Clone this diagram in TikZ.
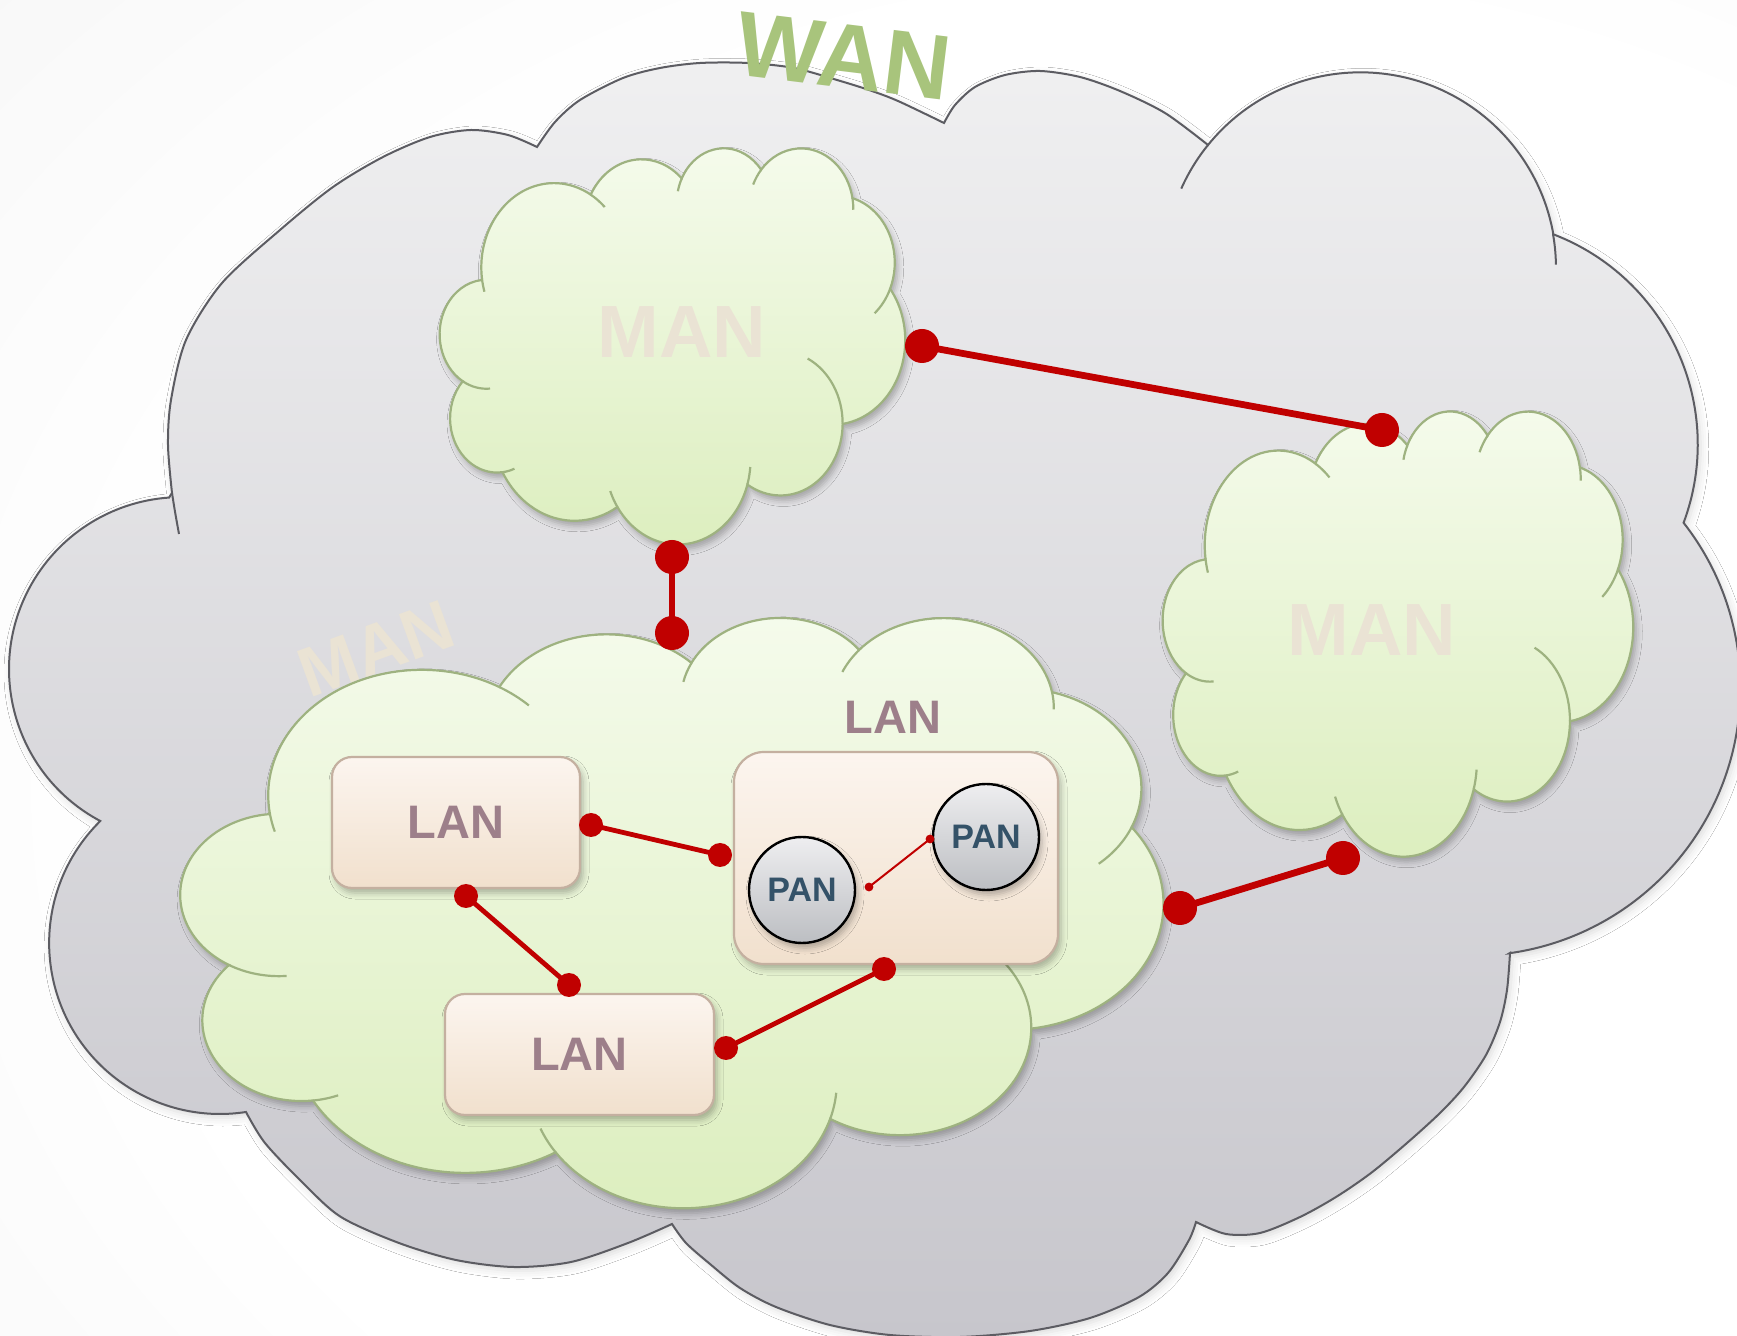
\documentclass[tikz,border=0pt]{standalone}
\usepackage{fontspec}
\setmainfont{Liberation Sans}
\usetikzlibrary{shadows.blur}

\definecolor{wire}{RGB}{192,0,0}
\definecolor{wanedge}{RGB}{92,92,98}
\definecolor{wantop}{RGB}{240,240,241}
\definecolor{wanbot}{RGB}{199,198,204}
\definecolor{mantop}{RGB}{245,251,236}
\definecolor{manbot}{RGB}{220,238,190}
\definecolor{manedge}{RGB}{158,178,128}
\definecolor{mantext}{RGB}{234,227,212}
\definecolor{wantext}{RGB}{168,196,124}
\definecolor{lantop}{RGB}{252,245,239}
\definecolor{lanbot}{RGB}{241,224,205}
\definecolor{lanedge}{RGB}{196,176,160}
\definecolor{lantext}{RGB}{157,127,138}
\definecolor{pantop}{RGB}{238,238,240}
\definecolor{panbot}{RGB}{188,190,194}
\definecolor{pantext}{RGB}{52,82,104}

\pgfdeclareradialshading{backdrop}{\pgfpoint{15bp}{-8bp}}{%
  color(0bp)=(white); color(30bp)=(white); color(55bp)=(black!5); color(80bp)=(black!15)}

% outline of the large WAN cloud, lobe by lobe
\newcommand\wanpath{%
 plot[smooth] coordinates {(172,493) (168,445) (171,400) (186,340) (222,283) (280,230) (333,187) (383,157) (430,137) (471,130) (508,135) (537,147)}
 -- plot[smooth] coordinates {(537,147) (555,122) (580,100) (623,78) (660,68) (700,63) (748,63) (794,68) (837,80) (869,90) (898,101) (944,123)}
 -- plot[smooth] coordinates {(944,123) (955,105) (975,87) (1005,75) (1040,71) (1080,77) (1120,91) (1165,113) (1208,145)}
 arc[start angle=-141, end angle=-10, radius=196]
 arc[start angle=-69, end angle=20.4, radius=225]
 arc[start angle=-38, end angle=82, radius=268]
 -- plot[smooth] coordinates {(1510,953) (1507,990) (1500,1022) (1486,1055) (1464,1087) (1440,1113) (1407,1143) (1371,1173) (1336,1197) (1300,1217) (1260,1233) (1226,1234) (1196,1222)}
 -- plot[smooth] coordinates {(1196,1222) (1189,1240) (1168,1273) (1139,1297) (1090,1318) (1030,1331) (960,1337) (890,1335) (830,1325) (776,1307) (740,1288) (710,1264) (686,1243) (672,1224)}
 -- plot[smooth] coordinates {(672,1224) (628,1243) (571,1262) (514,1267) (456,1260) (399,1243) (341,1217) (303,1183) (265,1143) (246,1112)}
 arc[start angle=81.3, end angle=225.5, radius=171]
 arc[start angle=118, end angle=266, radius=172]
 -- cycle}

% cloud outline in a 100 x 100 box
\newcommand\cloudpath{(9.028,33.264)
 arc[start angle=172.25,end angle=300.37,x radius=15.632,y radius=21.273]
 arc[start angle=-152.02,end angle=-45.43,x radius=12.345,y radius=16.822]
 arc[start angle=-153.49,end angle=-37.32,x radius=10.104,y radius=13.762]
 arc[start angle=-139.70,end angle=-10.21,x radius=11.243,y radius=15.266]
 arc[start angle=-74.77,end angle=23.21,x radius=12.345,y radius=16.836]
 arc[start angle=-37.54,end angle=81.87,x radius=15.683,y radius=21.343]
 arc[start angle=0.46,end angle=121.97,x radius=13.391,y radius=18.211]
 arc[start angle=16.85,end angle=146.24,x radius=15.630,y radius=21.331]
 arc[start angle=58.98,end angle=150.20,x radius=17.870,y radius=24.405]
 arc[start angle=83.31,end angle=223.10,x radius=10.093,y radius=13.699]
 arc[start angle=120.36,end angle=264.11,x radius=10.058,y radius=13.762]
 -- cycle}

% inner creases of the cloud, same 100 x 100 box
\newcommand\cloudcreases{
 (9.975,47.285) ++(85.54:10.058 and 13.762) arc[start angle=85.54,end angle=120.36,x radius=10.058,y radius=13.762]
 (12.262,68.519) ++(68.23:10.093 and 13.699) arc[start angle=68.23,end angle=83.31,x radius=10.093,y radius=13.699]
 (51.148,79.056) ++(146.24:15.630 and 21.331) arc[start angle=146.24,end angle=158.48,x radius=15.630,y radius=21.331]
 (51.148,79.056) ++(4.73:15.630 and 21.331) arc[start angle=4.73,end angle=16.85,x radius=15.630,y radius=21.331]
 (73.197,69.789) ++(-64.03:13.391 and 18.211) arc[start angle=-64.03,end angle=0.46,x radius=13.391,y radius=18.211]
 (85.463,29.167) ++(23.21:12.345 and 16.836) arc[start angle=23.21,end angle=49.65,x radius=12.345,y radius=16.836]
 (77.641,15.627) ++(-10.21:11.243 and 15.266) arc[start angle=-10.21,end angle=0.82,x radius=11.243,y radius=15.266]
 (77.641,15.627) ++(-156.29:11.243 and 15.266) arc[start angle=-156.29,end angle=-139.70,x radius=11.243,y radius=15.266]
 (61.030,14.097) ++(-167.72:10.104 and 13.762) arc[start angle=-167.72,end angle=-153.49,x radius=10.104,y radius=13.762]
 (24.516,30.396) ++(-59.63:15.632 and 21.273) arc[start angle=-59.63,end angle=-45.74,x radius=15.632,y radius=21.273]
 (24.516,30.396) ++(163.19:15.632 and 21.273) arc[start angle=163.19,end angle=172.25,x radius=15.632,y radius=21.273]
}

\tikzset{
 softshadow/.style={blur shadow={shadow xshift=1.5pt, shadow yshift=-2.5pt, shadow blur radius=3pt, shadow opacity=28}},
 faintshadow/.style={blur shadow={shadow xshift=1.5pt, shadow yshift=-2pt, shadow blur radius=4pt, shadow opacity=14}},
 wanline/.style={draw=wanedge, line width=1pt},
 wanbody/.style={wanline, top color=wantop, bottom color=wanbot, faintshadow},
 manline/.style={draw=manedge, line width=1.1pt},
 manbody/.style={manline, top color=mantop, bottom color=manbot, softshadow},
 mantitle/.style={text=mantext, inner sep=0pt, font=\bfseries\fontsize{37}{40}\selectfont},
 wantitle/.style={text=wantext, inner sep=0pt, font=\bfseries\fontsize{46}{49}\selectfont},
 lanlabel/.style={text=lantext, inner sep=0pt, font=\bfseries\fontsize{23.5}{26}\selectfont},
 lanbox/.style={lanlabel, draw=lanedge, line width=1.1pt, rounded corners=10pt,
   top color=lantop, bottom color=lanbot, softshadow},
 pancircle/.style={circle, draw=black, line width=1.2pt, minimum size=53pt, inner sep=0pt,
   top color=pantop, bottom color=panbot, text=pantext,
   font=\bfseries\fontsize{17}{19}\selectfont, softshadow},
 bigwire/.style={draw=wire, line width=3.4pt},
 midwire/.style={draw=wire, line width=2.4pt},
 thinwire/.style={draw=wire, line width=1pt},
}

\begin{document}
\begin{tikzpicture}[x=0.5pt, y=-0.5pt]
\useasboundingbox (0,0) rectangle (1737,1336);
\shade[shading=backdrop] (0,0) rectangle (1737,1336);

% WAN cloud
\path[wanbody] \wanpath;
\draw[wanline] (172,493) .. controls (175,512) .. (179,534);
\draw[wanline] (1208,145) arc[start angle=-141, end angle=-156, radius=196];
\draw[wanline] (1553,234) arc[start angle=-10, end angle=-1, radius=196];

% label of the lower MAN, partly behind its cloud
\node[mantitle, rotate=20, font=\bfseries\fontsize{35}{38}\selectfont] (manwest) at (376,649) {MAN};

% MAN clouds
\begin{scope}[shift={(440,147)}, xscale=4.65, yscale=3.96]
 \path[manbody] \cloudpath;
 \draw[manline] \cloudcreases;
\end{scope}
\begin{scope}[shift={(1163,410)}, xscale=4.70, yscale=4.45]
 \path[manbody] \cloudpath;
 \draw[manline] \cloudcreases;
\end{scope}
\begin{scope}[shift={(181,616)}, xscale=9.82, yscale=5.90]
 \path[manbody] \cloudpath;
 \draw[manline] \cloudcreases;
\end{scope}

\node[mantitle] (mannorth) at (682,332) {MAN};
\node[mantitle] (maneast) at (1372,630) {MAN};

% LANs and PANs
\node[lanbox, minimum width=124pt, minimum height=65.5pt] (lan1) at (456,822.5) {LAN};
\node[lanbox, minimum width=134.5pt, minimum height=60.5pt] (lan2) at (579.5,1054.5) {LAN};
\node[lanbox, rounded corners=15pt, minimum width=162pt, minimum height=106pt] (lan3) at (896,858) {};
\node[lanlabel] (lan3label) at (893,717) {LAN};
\node[pancircle] (pan1) at (802,890) {PAN};
\node[pancircle] (pan2) at (986,837) {PAN};

% link end points
\coordinate (mt-e) at (922,346);
\coordinate (mr-n) at (1382,430);
\coordinate (mt-s) at (672,557);
\coordinate (mb-n) at (672,633);
\coordinate (mb-e) at (1180,908);
\coordinate (mr-s) at (1343,858);
\coordinate (l1-e) at (591,825);
\coordinate (l3-w) at (720,855);
\coordinate (l1-s) at (466,896);
\coordinate (l2-n) at (569,985);
\coordinate (l2-e) at (726,1048);
\coordinate (l3-s) at (884,969);
\coordinate (p1-e) at (869,887);
\coordinate (p2-w) at (930,839);

% links
\draw[bigwire] (mt-e) -- (mr-n);
\draw[bigwire] (mt-s) -- (mb-n);
\draw[bigwire] (mb-e) -- (mr-s);
\fill[wire] (mt-e) circle[radius=8.5pt] (mr-n) circle[radius=8.5pt]
            (mt-s) circle[radius=8.5pt] (mb-n) circle[radius=8.5pt]
            (mb-e) circle[radius=8.5pt] (mr-s) circle[radius=8.5pt];
\draw[midwire] (l1-e) -- (l3-w);
\draw[midwire] (l1-s) -- (l2-n);
\draw[midwire] (l2-e) -- (l3-s);
\fill[wire] (l1-e) circle[radius=6pt] (l3-w) circle[radius=6pt]
            (l1-s) circle[radius=6pt] (l2-n) circle[radius=6pt]
            (l2-e) circle[radius=6pt] (l3-s) circle[radius=6pt];
\draw[thinwire] (p1-e) -- (p2-w);
\fill[wire] (p1-e) circle[radius=2.2pt] (p2-w) circle[radius=2.2pt];

% title
\node[wantitle, rotate=-7] (wan) at (844,56) {WAN};
\end{tikzpicture}
\end{document}
